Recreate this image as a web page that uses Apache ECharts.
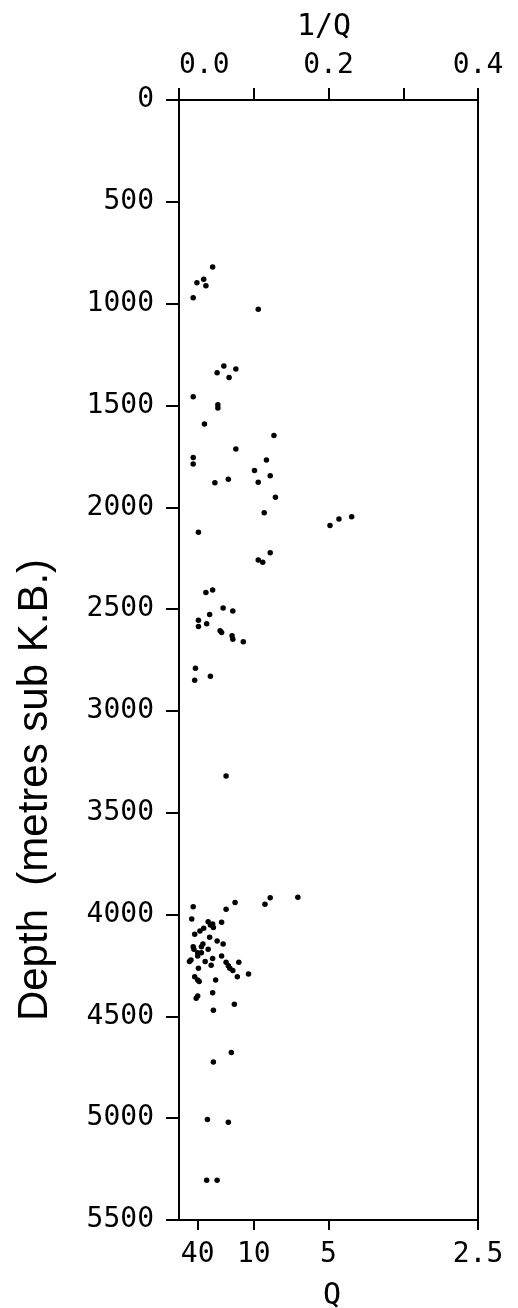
<!DOCTYPE html>
<html>
<head>
<meta charset="utf-8">
<script src="https://cdn.jsdelivr.net/npm/echarts@6/dist/echarts.min.js"></script>
<style>
html,body{margin:0;padding:0;background:#fff;}
#chart{width:518px;height:1308px;}
</style>
</head>
<body>
<div id="chart"></div>
<script>
// 1/Q values of the measured points
const invQ = [
  0.045, 0.024, 0.033, 0.036, 0.019, 0.106, 0.060, 0.051, 0.076, 0.067,
  0.019, 0.052, 0.052, 0.034, 0.127, 0.076, 0.019, 0.019, 0.117, 0.101,
  0.122, 0.048, 0.066, 0.106, 0.129, 0.114, 0.202, 0.214, 0.231, 0.026,
  0.122, 0.106, 0.112, 0.036, 0.045, 0.059, 0.072, 0.041, 0.026, 0.026,
  0.037, 0.055, 0.057, 0.071, 0.072, 0.086, 0.022, 0.021, 0.042, 0.063,
  0.019, 0.017, 0.075, 0.063, 0.115, 0.122, 0.159, 0.057, 0.039, 0.042,
  0.046, 0.045, 0.033, 0.028, 0.021, 0.041, 0.051, 0.059, 0.019, 0.020,
  0.032, 0.030, 0.039, 0.025, 0.030, 0.025, 0.016, 0.014, 0.045, 0.057,
  0.035, 0.043, 0.063, 0.066, 0.068, 0.072, 0.080, 0.026, 0.078, 0.093,
  0.021, 0.025, 0.027, 0.049, 0.045, 0.023, 0.025, 0.074, 0.046, 0.070,
  0.046, 0.038, 0.066, 0.037, 0.051
];
// depths (metres sub K.B.) of the same points
const depth = [
  820, 897, 880, 912, 971, 1028, 1306, 1339, 1321, 1363,
  1457, 1497, 1512, 1591, 1648, 1714, 1755, 1788, 1768, 1820,
  1845, 1879, 1862, 1877, 1951, 2027, 2090, 2058, 2046, 2123,
  2223, 2259, 2270, 2419, 2406, 2495, 2509, 2527, 2555, 2585,
  2572, 2606, 2615, 2631, 2648, 2660, 2790, 2850, 2830, 3320,
  3962, 4022, 3941, 3974, 3950, 3918, 3915, 4038, 4035, 4051,
  4064, 4046, 4067, 4081, 4097, 4112, 4130, 4145, 4158, 4171,
  4145, 4158, 4171, 4187, 4187, 4203, 4223, 4231, 4216, 4203,
  4231, 4249, 4234, 4251, 4264, 4275, 4234, 4264, 4305, 4292,
  4305, 4321, 4329, 4321, 4384, 4411, 4400, 4441, 4470, 4678,
  4724, 5006, 5020, 5305, 5305
];
// axis ticks
const topTicks = [0.0, 0.1, 0.2, 0.3, 0.4];
const topLabelled = [0.0, 0.2, 0.4];
const bottomQ = [40, 10, 5, 2.5];
const depthTicks = [0, 500, 1000, 1500, 2000, 2500, 3000, 3500, 4000, 4500, 5000, 5500];

const points = invQ.map((v, i) => [v, depth[i]]);
const FONT = 'DejaVu Sans Mono';
const labelStyle = {color: '#000', fontFamily: FONT, fontSize: 28};

const chart = echarts.init(document.getElementById('chart'), null, {renderer: 'canvas'});
chart.setOption({
  animation: false,
  backgroundColor: '#fff',
  grid: {left: 179, right: 40, top: 100, bottom: 88, containLabel: false},
  xAxis: [
    {
      type: 'value', position: 'top', min: topTicks[0], max: topTicks[topTicks.length - 1],
      interval: 0.1,
      axisLine: {show: true, onZero: false, lineStyle: {color: '#000', width: 2}},
      axisTick: {show: true, length: 12, lineStyle: {color: '#000', width: 2}},
      axisLabel: Object.assign({
        margin: 20,
        alignMinLabel: 'left',
        formatter: v => topLabelled.some(t => Math.abs(t - v) < 1e-9) ? v.toFixed(1) : ''
      }, labelStyle),
      splitLine: {show: false}
    },
    {
      type: 'value', position: 'bottom', min: 0, max: 0.4,
      axisLine: {show: true, onZero: false, lineStyle: {color: '#000', width: 2}},
      axisTick: {show: true, length: 10, lineStyle: {color: '#000', width: 2},
                 customValues: bottomQ.map(q => 1 / q)},
      axisLabel: Object.assign({
        margin: 21,
        customValues: bottomQ.map(q => 1 / q),
        formatter: v => {
          const q = bottomQ.find(qq => Math.abs(1 / qq - v) < 1e-9);
          return q === undefined ? '' : String(q);
        }
      }, labelStyle),
      splitLine: {show: false}
    }
  ],
  yAxis: [
    {
      type: 'value', inverse: true, min: depthTicks[0], max: depthTicks[depthTicks.length - 1],
      interval: 500,
      axisLine: {show: true, onZero: false, lineStyle: {color: '#000', width: 2}},
      axisTick: {show: true, length: 13, lineStyle: {color: '#000', width: 2}},
      axisLabel: Object.assign({margin: 25, formatter: v => String(v)}, labelStyle),
      splitLine: {show: false}
    },
    {
      type: 'value', inverse: true, position: 'right', min: 0, max: 5500,
      axisLine: {show: true, onZero: false, lineStyle: {color: '#000', width: 2}},
      axisTick: {show: false}, axisLabel: {show: false}, splitLine: {show: false}
    }
  ],
  graphic: [
    {
      type: 'text', x: 35, y: 790, rotation: Math.PI / 2,
      style: {
        text: 'Depth  (metres sub K.B.)', fill: '#000',
        font: '42px "Liberation Sans", Arial, sans-serif',
        align: 'center', verticalAlign: 'middle'
      }
    },
    {
      type: 'text', x: 324, y: 27,
      style: {
        text: '1/Q', fill: '#000', font: '30px "DejaVu Sans Mono", monospace',
        align: 'center', verticalAlign: 'middle'
      }
    },
    {
      type: 'text', x: 332, y: 1296,
      style: {
        text: 'Q', fill: '#000', font: '30px "DejaVu Sans Mono", monospace',
        align: 'center', verticalAlign: 'middle'
      }
    }
  ],
  series: [{
    type: 'scatter', xAxisIndex: 0, yAxisIndex: 0,
    data: points, symbol: 'circle', symbolSize: 5.5,
    itemStyle: {color: '#000', opacity: 1}, silent: true
  }]
});
</script>
</body>
</html>
